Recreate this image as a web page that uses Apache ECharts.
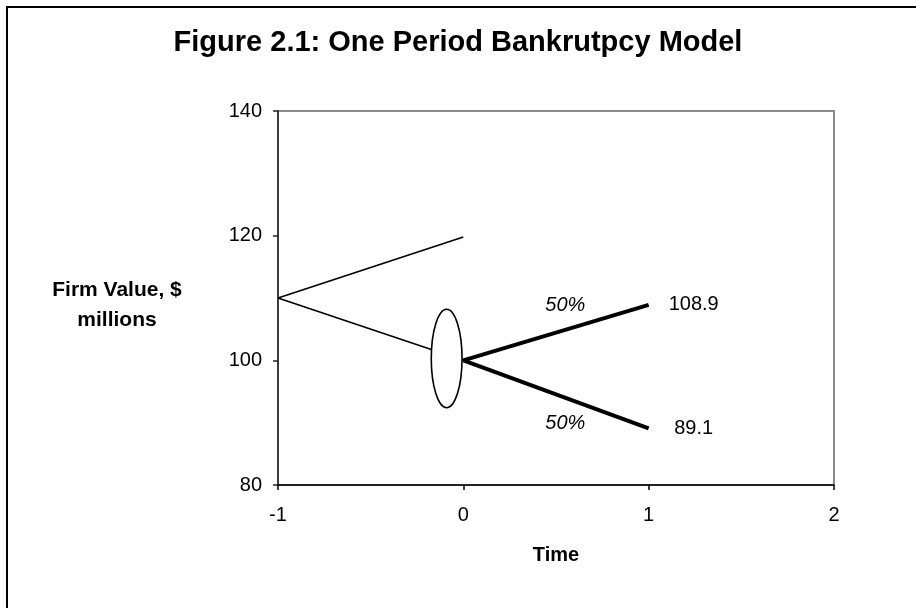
<!DOCTYPE html>
<html>

<head>
    <meta charset="utf-8" />
    <title>ECharts</title>
    <style>
        html, body { margin: 0; padding: 0; background: #fff; }
        #main { width: 916px; height: 608px; }
    </style>
</head>

<body>
    <div id="main"></div>
</body>
<script src="https://cdn.jsdelivr.net/npm/echarts@6/dist/echarts.min.js"></script>
<script type="text/javascript">
    // values
    var priorBranch = [[-1, 110], [0, 119.8]];
    var pathBranch = [[-1, 110], [0, 100]];
    var upBranch = [[0, 100], [1, 108.9]];
    var downBranch = [[0, 100], [1, 89.1]];
    var outcomeLabels = [[1, 108.9, '108.9'], [1, 89.1, '89.1']];
    var probLabels = [[0.55, 108.8, '50%'], [0.55, 89.9, '50%']];
    // node ellipse: centre x, centre y, half width, half height (data units)
    var nodeEllipse = [[-0.09, 100.3, 0.083, 7.9]];

    var font = 'Liberation Sans, Arial, sans-serif';

    var chartDom = document.getElementById('main');
    var myChart = echarts.init(chartDom);
    var option;

    option = {
        animation: false,
        title: {
            text: 'Figure 2.1: One Period Bankrutpcy Model',
            left: 'center',
            top: 23,
            textStyle: {
                fontFamily: font,
                fontSize: 29,
                fontWeight: 'bold',
                color: '#000'
            }
        },
        graphic: [
            {
                type: 'polyline',
                shape: { points: [[7, 700], [7, 7], [920, 7]] },
                style: { stroke: '#000', lineWidth: 2, fill: null }
            },
            {
                type: 'text',
                style: {
                    text: 'Firm Value, $',
                    x: 117,
                    y: 290,
                    align: 'center',
                    verticalAlign: 'middle',
                    font: 'bold 21px ' + font,
                    fill: '#000'
                }
            },
            {
                type: 'text',
                style: {
                    text: 'millions',
                    x: 117,
                    y: 320,
                    align: 'center',
                    verticalAlign: 'middle',
                    font: 'bold 21px ' + font,
                    fill: '#000'
                }
            }
        ],
        grid: {
            left: 278,
            right: 82,
            top: 111,
            bottom: 123,
            show: true,
            borderColor: '#8a8a8a',
            borderWidth: 2
        },
        xAxis: {
            type: 'value',
            min: -1,
            max: 2,
            interval: 1,
            name: 'Time',
            nameLocation: 'middle',
            nameGap: 60,
            nameTextStyle: { fontFamily: font, fontSize: 20, fontWeight: 'bold', color: '#000' },
            splitLine: { show: false },
            axisLine: { onZero: false, lineStyle: { color: '#000', width: 1.5 } },
            axisTick: { length: 5, lineStyle: { color: '#000', width: 1.5 } },
            axisLabel: { fontFamily: font, fontSize: 20, color: '#000', margin: 20 }
        },
        yAxis: {
            type: 'value',
            min: 80,
            max: 140,
            interval: 20,
            splitLine: { show: false },
            axisLine: { onZero: false, lineStyle: { color: '#222', width: 1.5 } },
            axisTick: { length: 5, lineStyle: { color: '#222', width: 1.5 } },
            axisLabel: { fontFamily: font, fontSize: 20, color: '#000', margin: 16 }
        },
        series: [
            {
                type: 'line',
                data: priorBranch,
                symbol: 'none',
                lineStyle: { color: '#000', width: 1.6 },
                z: 2
            },
            {
                type: 'line',
                data: pathBranch,
                symbol: 'none',
                lineStyle: { color: '#000', width: 1.6 },
                z: 2
            },
            {
                type: 'custom',
                data: nodeEllipse,
                z: 3,
                renderItem: function (params, api) {
                    var c = api.coord([api.value(0), api.value(1)]);
                    var s = api.size([api.value(2), api.value(3)]);
                    return {
                        type: 'ellipse',
                        shape: { cx: c[0], cy: c[1], rx: s[0], ry: s[1] },
                        style: { fill: '#fff', stroke: '#000', lineWidth: 1.6 }
                    };
                }
            },
            {
                type: 'line',
                data: upBranch,
                symbol: 'none',
                lineStyle: { color: '#000', width: 4 },
                z: 4
            },
            {
                type: 'line',
                data: downBranch,
                symbol: 'none',
                lineStyle: { color: '#000', width: 4 },
                z: 4
            },
            {
                type: 'scatter',
                data: outcomeLabels,
                symbolSize: 0,
                itemStyle: { opacity: 1 },
                label: {
                    show: true,
                    position: [45, 0],
                    align: 'center',
                    verticalAlign: 'middle',
                    formatter: function (p) { return p.value[2]; },
                    fontFamily: font,
                    fontSize: 20,
                    color: '#000'
                }
            },
            {
                type: 'scatter',
                data: probLabels,
                symbolSize: 0,
                itemStyle: { opacity: 1 },
                label: {
                    show: true,
                    position: 'inside',
                    formatter: function (p) { return p.value[2]; },
                    fontFamily: font,
                    fontSize: 20,
                    fontStyle: 'italic',
                    color: '#000'
                }
            }
        ]
    };

    option && myChart.setOption(option);
</script>

</html>
